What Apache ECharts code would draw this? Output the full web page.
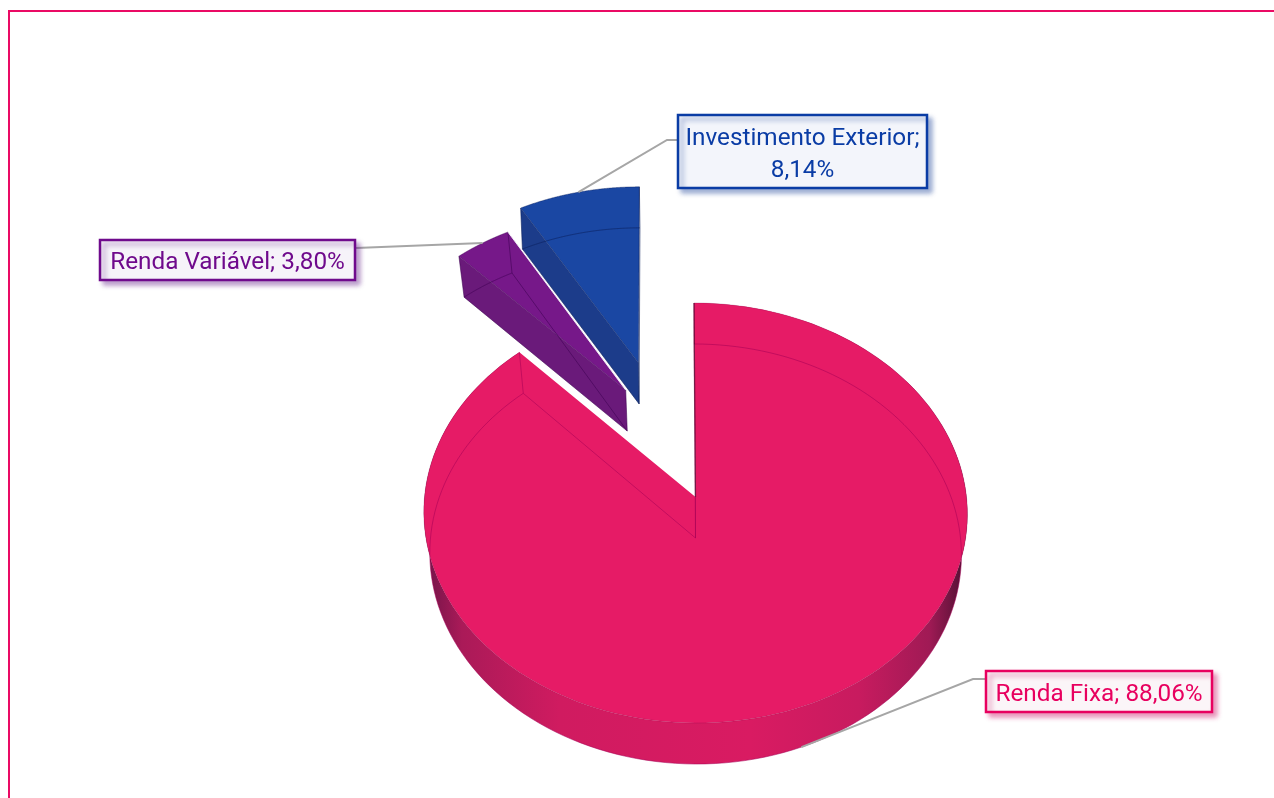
<!DOCTYPE html>
<html>
<head>
<meta charset="utf-8">
<style>
  html, body { margin:0; padding:0; background:#fff; }
  #main { width:1274px; height:798px; }
</style>
<script src="https://cdn.jsdelivr.net/npm/echarts@6/dist/echarts.min.js"></script>
</head>
<body>
<div id="main"></div>
<script>
var categories = ['Renda Fixa', 'Renda Variável', 'Investimento Exterior'];
var values = [88.06, 3.80, 8.14];

// projecao do disco (perspectiva leve, como o pie 3D do Excel)
var cx = 695.5, cy = 497, R = 271, Ry = 208.8, persp = 0.0762;
var depth = 41;

var looks = [
  { top:'#e61b66', wall:'#c01a5c', line:'rgba(165,0,85,0.6)', rim:'rgba(130,10,70,0.3)', ex:0, ey:0, skew:-1.5, lowScale:0.978,
    text:'#e8005f', fill:'#fbf5f8', shadow:'rgba(200,0,90,0.4)',
    box:[986, 671, 226, 41], leader:[[973,679],[986,679]], low:true, sep:' ' },
  { top:'#761889', wall:'#6a1a7a', line:'rgba(60,0,80,0.6)', rim:'rgba(60,0,80,0.5)', ex:-0.268, ey:0.533, skew:-2.5, lowScale:0.978,
    text:'#6f0a8c', fill:'#f6f3f9', shadow:'rgba(90,20,130,0.4)',
    box:[100, 240, 255, 40], leader:[[356,248]], low:false, sep:' ' },
  { top:'#1a47a3', wall:'#1c3c8a', line:'rgba(10,30,90,0.65)', rim:'rgba(10,30,90,0.5)', ex:-0.221, ey:0.675, skew:-3, lowScale:0.99,
    text:'#0a3ca5', fill:'#f3f5fb', shadow:'rgba(20,60,150,0.4)',
    box:[678, 115, 249, 73], leader:[[667,140],[678,140]], low:false, sep:'\n' }
];

function project(deg, r, lk, low) {
  var a = deg * Math.PI / 180;
  var x = lk.ex + r * Math.sin(a), y = lk.ey + r * Math.cos(a);
  var s = 1 / (1 + persp * y);
  var X = cx + R * x * s + lk.skew * r * Math.cos(a), Y = cy - Ry * y * s;
  if (low) {
    X = cx + (X - cx) * lk.lowScale;
    Y += depth;
  }
  return [X, Y];
}

function arc(a0, a1, lk, low) {
  var pts = [];
  for (var i = 0; i <= 160; i++) {
    pts.push(project(a0 + (a1 - a0) * i / 160, 1, lk, low));
  }
  return pts;
}

function startAngle(idx) {
  var sum = 0, i;
  for (i = 0; i < idx; i++) sum += values[i];
  return sum * 3.6;
}

function poly(pts, style, z2) {
  return { type:'polygon', z2:z2 || 0, silent:true, shape:{ points:pts }, style:style };
}
function line(pts, stroke, w, z2) {
  return { type:'polyline', z2:z2 || 0, silent:true, shape:{ points:pts },
    style:{ fill:null, stroke:stroke, lineWidth:w } };
}

function renderSlice(params, api) {
  var idx = params.dataIndex;
  var lk = looks[idx];
  var a0 = startAngle(idx), a1 = a0 + api.value(1) * 3.6;
  var topArc = arc(a0, a1, lk, false);
  var lowArc = arc(a0, a1, lk, true);
  var apexT = project(0, 0, lk, false);
  var apexB = project(0, 0, lk, true);
  var last = topArc.length - 1;
  var kids = [];

  if (idx === 0) {
    // parede externa, visivel na frente
    kids.push(poly(topArc.concat(lowArc.slice().reverse()), {
      fill:{ type:'linear', x:0, y:0, x2:1, y2:0, colorStops:[
        { offset:0, color:'#701448' }, { offset:0.07, color:'#aa1a58' },
        { offset:0.25, color:'#d01b60' }, { offset:0.6, color:'#d91b62' },
        { offset:0.8, color:'#c81b5f' }, { offset:0.93, color:'#a01a55' },
        { offset:1, color:'#4a1030' } ] }
    }));
  } else {
    // parede do corte, voltada para a esquerda
    kids.push(poly([topArc[0], apexT, apexB, lowArc[0]], { fill:lk.wall }));
  }

  kids.push(poly(topArc.concat([apexT]), { fill:lk.top }));

  // arestas de baixo vistas por transparencia
  kids.push(line(lowArc, lk.line, 0.9));
  kids.push(line([lowArc[last], apexB, lowArc[0]], lk.line, 0.9));
  kids.push(line([apexT, apexB], lk.line, 0.9));
  kids.push(line([topArc[0], lowArc[0]], lk.line, 0.9));
  kids.push(line([topArc[last], lowArc[last]], lk.line, 0.9));
  kids.push(line(topArc, lk.rim, 0.8));

  if (idx === 0) {
    kids.push(line([topArc[0], apexT], 'rgba(80,10,45,0.75)', 1.2));
  } else {
    kids.push(line([topArc[0], apexT], lk.rim, 0.8));
    kids.push(line([topArc[last], apexT], idx === 1 ? '#f4f2f8' : lk.rim, 0.9));
  }

  // linha guia ate a caixa
  var mid = (a0 + a1) / 2;
  var anchor = project(mid, 1, lk, lk.low);
  kids.push(line([anchor].concat(lk.leader), '#a6a6a6', 2, 5));

  // caixa do rotulo
  var b = lk.box;
  kids.push({ type:'rect', z2:6, silent:true,
    shape:{ x:b[0], y:b[1], width:b[2], height:b[3] },
    style:{ fill:lk.fill, stroke:lk.text, lineWidth:2.5,
      shadowBlur:5, shadowOffsetX:4, shadowOffsetY:4, shadowColor:lk.shadow } });
  kids.push({ type:'text', z2:7, silent:true,
    style:{ text:categories[idx] + ';' + lk.sep + api.value(1).toFixed(2).replace('.', ',') + '%',
      x:b[0] + b[2] / 2, y:b[1] + b[3] / 2 + 3, align:'center', verticalAlign:'middle',
      fill:lk.text, font:'24.3px Roboto', lineHeight:32 } });

  return { type:'group', children:kids };
}

var myChart = echarts.init(document.getElementById('main'), null, { renderer:'canvas' });
myChart.setOption({
  animation:false,
  backgroundColor:'#ffffff',
  graphic:[
    { type:'polyline', silent:true, shape:{ points:[[9,798],[9,11],[1274,11]] },
      style:{ fill:null, stroke:'#ea0a64', lineWidth:2 } }
  ],
  series:[{
    type:'custom',
    coordinateSystem:'none',
    renderItem:renderSlice,
    data:values.map(function (v, i) { return [i, v]; })
  }]
});
</script>
</body>
</html>
